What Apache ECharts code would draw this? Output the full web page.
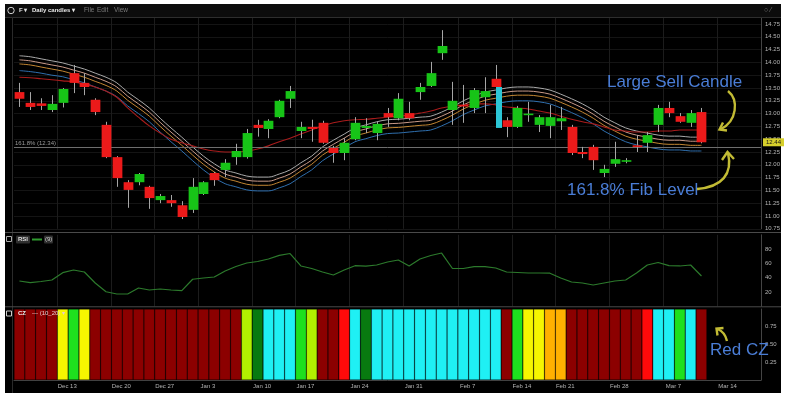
<!DOCTYPE html>
<html><head><meta charset="utf-8">
<script src="https://cdn.jsdelivr.net/npm/echarts@6/dist/echarts.min.js"></script>
<style>
html,body{margin:0;padding:0;background:#fff;}
#bg{position:absolute;left:5px;top:4px;width:776px;height:389px;background:#000;}
#chart{position:absolute;left:0;top:0;width:787px;height:405px;}
</style></head>
<body><div id="bg"></div><div id="chart"></div>
<script>
// ---- data ----
const dates = ['Dec 7','Dec 8','Dec 9','Dec 10','Dec 13','Dec 14','Dec 15','Dec 16','Dec 17','Dec 20','Dec 21','Dec 22','Dec 23','Dec 27','Dec 28','Dec 29','Dec 30','Dec 31','Jan 3','Jan 4','Jan 5','Jan 6','Jan 7','Jan 10','Jan 11','Jan 12','Jan 13','Jan 14','Jan 18','Jan 19','Jan 20','Jan 21','Jan 24','Jan 25','Jan 26','Jan 27','Jan 28','Jan 31','Feb 1','Feb 2','Feb 3','Feb 4','Feb 7','Feb 8','Feb 9','Feb 10','Feb 11','Feb 14','Feb 15','Feb 16','Feb 17','Feb 18','Feb 22','Feb 23','Feb 24','Feb 25','Feb 28','Mar 1','Mar 2','Mar 3','Mar 4','Mar 7','Mar 8','Mar 9','Mar 10','Mar 11','Mar 14','Mar 15','Mar 16'];
const opens  = [13.42,13.21,13.20,13.07,13.21,13.79,13.60,13.27,12.78,12.15,11.66,11.66,11.57,11.31,11.31,11.21,11.12,11.43,11.84,11.90,12.15,12.15,12.78,12.70,12.93,13.29,12.66,12.74,12.82,12.33,12.23,12.50,12.72,12.62,13.01,12.91,13.01,13.42,13.54,14.18,13.07,13.17,13.11,13.32,13.68,12.87,12.74,12.98,12.78,12.76,12.85,12.74,12.25,12.35,11.84,12.02,12.07,12.38,12.43,12.78,13.11,12.95,12.82,13.03];
const closes = [13.29,13.13,13.15,13.19,13.48,13.60,13.52,13.03,12.15,11.74,11.51,11.82,11.35,11.39,11.25,10.98,11.57,11.66,11.70,12.04,12.27,12.62,12.72,12.86,13.25,13.44,12.74,12.70,12.43,12.23,12.43,12.82,12.76,12.80,12.93,13.29,12.91,13.52,13.79,14.32,13.25,13.15,13.46,13.44,13.52,12.74,13.11,13.00,12.93,12.93,12.91,12.23,12.21,12.09,11.92,12.11,12.09,12.36,12.58,13.11,13.01,12.84,13.01,12.44];
const lows   = [13.13,13.07,13.07,13.03,13.12,13.40,13.36,12.97,12.13,11.57,11.16,11.60,11.14,11.25,11.18,10.94,11.06,11.41,11.59,11.76,12.00,12.12,12.55,12.52,12.91,13.11,12.52,12.45,12.41,12.04,12.09,12.48,12.62,12.48,12.74,12.87,12.87,13.27,13.52,14.05,12.78,12.82,13.01,13.01,13.42,12.54,12.72,12.84,12.64,12.52,12.68,12.19,12.13,11.90,11.76,11.96,12.03,12.25,12.25,12.64,12.93,12.82,12.74,12.42];
const highs  = [13.60,13.42,13.30,13.36,13.50,13.95,13.79,13.30,12.84,12.17,11.70,11.84,11.59,11.43,11.41,11.29,11.74,11.68,11.86,12.11,12.41,12.70,12.88,12.89,13.27,13.54,12.84,12.88,12.86,12.37,12.52,12.93,12.91,12.84,13.11,13.40,13.23,13.60,14.01,14.63,13.62,13.56,13.50,13.71,13.95,12.93,13.15,13.23,12.97,13.17,13.13,12.78,12.35,12.39,12.00,12.45,12.13,12.58,12.64,13.17,13.23,13.01,13.07,13.11];
const bandUpper  = [14.13,14.11,14.07,14.03,13.99,13.93,13.87,13.79,13.71,13.60,13.42,13.27,13.11,12.91,12.72,12.54,12.35,12.17,12.02,11.90,11.84,11.78,11.76,11.76,11.82,11.90,12.04,12.17,12.35,12.48,12.60,12.72,12.78,12.84,12.88,12.89,12.91,12.93,12.95,13.03,13.13,13.25,13.34,13.42,13.46,13.50,13.52,13.52,13.50,13.46,13.38,13.29,13.19,13.07,12.93,12.82,12.72,12.66,12.62,12.58,12.56,12.56,12.54,12.54];
const bandUpMid  = [14.05,14.03,13.99,13.95,13.91,13.85,13.79,13.71,13.63,13.52,13.34,13.19,13.03,12.83,12.64,12.46,12.27,12.09,11.94,11.82,11.76,11.70,11.68,11.68,11.74,11.82,11.96,12.09,12.27,12.40,12.52,12.64,12.70,12.76,12.80,12.81,12.83,12.85,12.87,12.95,13.05,13.17,13.26,13.34,13.38,13.42,13.44,13.44,13.42,13.38,13.30,13.21,13.11,12.99,12.85,12.74,12.64,12.58,12.54,12.50,12.48,12.48,12.46,12.46];
const bandLowMid = [13.97,13.95,13.91,13.87,13.83,13.77,13.71,13.63,13.55,13.44,13.26,13.11,12.95,12.75,12.56,12.38,12.19,12.01,11.86,11.74,11.68,11.62,11.60,11.60,11.66,11.74,11.88,12.01,12.19,12.32,12.44,12.56,12.62,12.68,12.72,12.73,12.75,12.77,12.79,12.87,12.97,13.09,13.18,13.26,13.30,13.34,13.36,13.36,13.34,13.30,13.22,13.13,13.03,12.91,12.77,12.66,12.56,12.50,12.46,12.42,12.40,12.40,12.38,12.38];
const bandLower  = [13.84,13.82,13.79,13.75,13.72,13.66,13.60,13.52,13.44,13.33,13.15,13.00,12.84,12.64,12.45,12.27,12.08,11.90,11.75,11.63,11.57,11.51,11.49,11.49,11.55,11.63,11.77,11.90,12.08,12.21,12.33,12.45,12.51,12.57,12.61,12.62,12.64,12.66,12.68,12.76,12.86,12.98,13.07,13.15,13.19,13.23,13.25,13.25,13.23,13.19,13.11,13.02,12.92,12.80,12.66,12.55,12.45,12.39,12.35,12.31,12.29,12.29,12.27,12.27];
const maRed      = [13.71,13.70,13.68,13.66,13.64,13.62,13.58,13.52,13.44,13.32,13.11,12.93,12.76,12.62,12.50,12.43,12.37,12.31,12.27,12.25,12.25,12.27,12.31,12.37,12.45,12.52,12.60,12.68,12.76,12.82,12.86,12.88,12.89,12.91,12.93,12.95,12.97,13.01,13.05,13.11,13.15,13.17,13.19,13.19,13.17,13.13,13.11,13.09,13.05,13.01,12.95,12.89,12.84,12.80,12.74,12.68,12.66,12.64,12.64,12.66,12.66,12.68,12.68,12.68];
const rsi = [35.4,33,34.7,36.8,47,50.8,48,32.6,20.4,17.2,17.2,25.6,22.8,24.2,22.8,22,37.8,39.6,41,49.4,55.7,60.6,62.7,66.2,71.3,73.8,56.4,52.9,48,43.8,50.8,56.8,56.1,57.8,62,64.8,56.4,66.2,71,74.5,52.9,52.9,55.4,55.4,53.6,48,47.3,46.6,46.6,46.3,39.6,34,32.6,29.8,32.6,35.4,36.8,46.6,57.8,61.3,56.8,56.4,57.8,42.4];
const czZone = ['DR','DR','DR','DR','Y','G','Y','DR','DR','DR','DR','DR','DR','DR','DR','DR','DR','DR','DR','DR','DR','YG','DG','C','C','C','G','YG','DR','DR','R','C','DG','C','C','C','C','C','C','C','C','C','C','C','C','DR','G','Y','Y','O','O','DR','DR','DR','DR','DR','DR','DR','R','C','C','G','C','DR'];
const czColors = {DR:'#8c0000', Y:'#f6f600', G:'#1ee01e', YG:'#b2f000', DG:'#087a10', C:'#1ff0f4', R:'#ff0a0a', O:'#ffb000'};
const tickLabels = ['Dec 13','Dec 20','Dec 27','Jan 3','Jan 10','Jan 17','Jan 24','Jan 31','Feb 7','Feb 14','Feb 21','Feb 28','Mar 7','Mar 14'];
const tickIdx    = [4,9,13,17,22,26,31,36,41,46,50,55,60,65];
const fibLevel = 12.34, fibText = '161.8% (12.34)';
const lastPrice = 12.44;
const gapBar = [44, 13.52, 12.72];

// ---- chart ----
const chart = echarts.init(document.getElementById('chart'), null, {renderer:'canvas'});
const FONT = "'Liberation Sans', Arial, sans-serif";
const axisLbl = {color:'#b4b4b4', fontSize:6, fontFamily:FONT};

function renderCandle(params, api){
  const i=api.value(0), o=api.value(1), c=api.value(2), l=api.value(3), h=api.value(4);
  const pH=api.coord([i,h]), pL=api.coord([i,l]), pO=api.coord([i,o]), pC=api.coord([i,c]);
  const w=api.size([1,0])[0]*0.9;
  const x=Math.round(pO[0])+0.5;
  const top=Math.min(pO[1],pC[1]);
  let hgt=Math.abs(pO[1]-pC[1]); if(hgt<1.6) hgt=1.6;
  const up=c>=o;
  return {type:'group', children:[
    {type:'line', shape:{x1:x,y1:pH[1],x2:x,y2:pL[1]}, style:{stroke:'#a6a6a6', lineWidth:1}},
    {type:'rect', shape:{x:x-w/2, y:top, width:w, height:hgt}, style:{fill: up?'#17c417':'#ec1a1a'}}
  ]};
}
function renderGap(params, api){
  const i=api.value(0);
  const pT=api.coord([i, api.value(1)]), pB=api.coord([i, api.value(2)]);
  const slot=api.size([1,0])[0];
  const cx=pT[0]+slot*0.3;
  return {type:'rect', shape:{x:cx-3, y:pT[1], width:6, height:pB[1]-pT[1]}, style:{fill:'#2cc6d6'}};
}
const showTick = idx => tickIdx.indexOf(idx) >= 0;

const lineS = (data, color, w) => ({type:'line', xAxisIndex:0, yAxisIndex:0, data:data, showSymbol:false, smooth:0.35, silent:true,
  lineStyle:{color:color, width:w||1}, z:3});

const redLine = lineS(maRed, '#a81c1c', 1.1);
redLine.markLine = {symbol:['none','none'], silent:true, animation:false,
  data:[
    {yAxis:fibLevel, lineStyle:{color:'#6e6e6e', width:1, type:'solid'},
     label:{show:true, position:'insideStartTop', formatter:fibText, color:'#9a9a9a', fontSize:6, fontFamily:FONT, distance:1}},
    {yAxis:lastPrice, lineStyle:{color:'rgba(0,0,0,0)', width:1, type:'solid'},
     label:{show:true, position:'end', formatter:lastPrice.toFixed(2), backgroundColor:'#d6cf2c', color:'#111', fontSize:6, fontFamily:FONT, padding:[1,3,1,3], distance:2}}
  ]};

const gridL = 14, gridW = 747;
const option = {
  animation:false,
  backgroundColor:'transparent',
  grid:[
    {left:gridL, width:gridW, top:17.6, height:211.2},
    {left:gridL, width:gridW, top:234.8, height:71.5},
    {left:gridL, width:gridW, top:309, height:71}
  ],
  xAxis:[0,1,2].map(g => ({
    type:'category', gridIndex:g, data:dates, boundaryGap:true,
    axisLine:{show:g===2, lineStyle:{color:'#444'}},
    axisTick:{show:false},
    axisLabel: g===2 ? Object.assign({interval:(idx)=>showTick(idx), formatter:(v,idx)=>tickLabels[tickIdx.indexOf(idx)], margin:3, padding:[0,0,0,9]}, axisLbl) : {show:false},
    splitLine:{show:g!==2, interval:(idx)=>showTick(idx), lineStyle:{color:'#1c1c1c', width:1}}
  })),
  yAxis:[
    {type:'value', gridIndex:0, position:'right', min:10.75, max:14.875, interval:0.25,
     axisLine:{show:true, lineStyle:{color:'#444'}}, axisTick:{show:false},
     axisLabel:Object.assign({showMaxLabel:false, margin:4, formatter:v=>v.toFixed(2)}, axisLbl),
     splitLine:{show:true, lineStyle:{color:'#141414'}}},
    {type:'value', gridIndex:1, position:'right', min:0, max:100, interval:20,
     axisLine:{show:true, lineStyle:{color:'#444'}}, axisTick:{show:false},
     axisLabel:Object.assign({showMaxLabel:false, showMinLabel:false, margin:4}, axisLbl),
     splitLine:{show:false}},
    {type:'value', gridIndex:2, position:'right', min:0, max:1, interval:0.25,
     axisLine:{show:true, lineStyle:{color:'#444'}}, axisTick:{show:false},
     axisLabel:Object.assign({showMaxLabel:false, showMinLabel:false, margin:4, formatter:v=>v.toFixed(2)}, axisLbl),
     splitLine:{show:false}}
  ],
  series:[
    lineS(bandUpper, '#a9a9a9'),
    lineS(bandUpMid, '#c99a88'),
    lineS(bandLowMid, '#c38632'),
    lineS(bandLower, '#2f6fae'),
    redLine,
    {type:'custom', xAxisIndex:0, yAxisIndex:0, renderItem:renderCandle, silent:true, z:5,
     encode:{x:0, y:[1,2,3,4]},
     data: opens.map((o,i)=>[i, o, closes[i], lows[i], highs[i]])},
    {type:'custom', xAxisIndex:0, yAxisIndex:0, renderItem:renderGap, silent:true, z:6,
     encode:{x:0, y:[1,2]}, data:[gapBar]},
    {type:'line', xAxisIndex:1, yAxisIndex:1, data:rsi, showSymbol:false, smooth:false, silent:true,
     lineStyle:{color:'#2c7a2c', width:1.2}},
    {type:'bar', xAxisIndex:2, yAxisIndex:2, barCategoryGap:'0%', silent:true,
     data: czZone.map(z => ({value:1, itemStyle:{color:czColors[z], borderColor:'rgba(0,0,0,0.3)', borderWidth:0.6}}))}
  ],
  graphic:[
    // header bar
    {type:'rect', shape:{x:5,y:4,width:776,height:13}, style:{fill:'#0c0c0c'}, z:50},
    {type:'line', shape:{x1:5,y1:17.5,x2:781,y2:17.5}, style:{stroke:'#2e2e2e', lineWidth:1}, z:50},
    {type:'circle', shape:{cx:11,cy:10.5,r:3.2}, style:{fill:'none', stroke:'#cfcfcf', lineWidth:1}, z:51},
    {type:'text', x:19, y:10.5, style:{text:'F ▾', fill:'#e0e0e0', font:'bold 6px '+FONT, verticalAlign:'middle'}, z:51},
    {type:'text', x:32, y:10.5, style:{text:'Daily candles ▾', fill:'#e8e8e8', font:'bold 6px '+FONT, verticalAlign:'middle'}, z:51},
    {type:'text', x:84, y:10.5, style:{text:'File', fill:'#7a7a7a', font:'6.5px '+FONT, verticalAlign:'middle'}, z:51},
    {type:'text', x:97, y:10.5, style:{text:'Edit', fill:'#7a7a7a', font:'6.5px '+FONT, verticalAlign:'middle'}, z:51},
    {type:'text', x:114, y:10.5, style:{text:'View', fill:'#7a7a7a', font:'6.5px '+FONT, verticalAlign:'middle'}, z:51},
    {type:'text', x:764, y:10.5, style:{text:'○ ⁄', fill:'#777', font:'7px '+FONT, verticalAlign:'middle'}, z:51},
    // left strip
    {type:'line', shape:{x1:12.5,y1:17,x2:12.5,y2:393}, style:{stroke:'#2a2a2a', lineWidth:1}, z:50},
    // panel dividers
    {type:'line', shape:{x1:5,y1:232.5,x2:781,y2:232.5}, style:{stroke:'#4a4a4a', lineWidth:1}, z:50},
    {type:'line', shape:{x1:5,y1:306.8,x2:781,y2:306.8}, style:{stroke:'#4a4a4a', lineWidth:1}, z:50},
    // RSI header
    {type:'rect', shape:{x:6.5,y:236.5,width:5,height:5}, style:{fill:'none', stroke:'#aaa', lineWidth:1}, z:51},
    {type:'rect', shape:{x:16,y:235.5,width:14,height:8,r:1}, style:{fill:'#2f2f2f'}, z:51},
    {type:'text', x:18, y:239.5, style:{text:'RSI', fill:'#ddd', font:'bold 6px '+FONT, verticalAlign:'middle'}, z:52},
    {type:'line', shape:{x1:32,y1:239.5,x2:42,y2:239.5}, style:{stroke:'#2f9a2f', lineWidth:2}, z:51},
    {type:'rect', shape:{x:44,y:235.5,width:9,height:8,r:1}, style:{fill:'#2f2f2f'}, z:51},
    {type:'text', x:45, y:239.5, style:{text:'(9)', fill:'#ccc', font:'6px '+FONT, verticalAlign:'middle'}, z:52},
    // CZ header
    {type:'rect', shape:{x:6.5,y:311,width:5,height:5}, style:{fill:'none', stroke:'#ccc', lineWidth:1}, z:51},
    {type:'text', x:18, y:313.5, style:{text:'CZ', fill:'#f0f0f0', font:'bold 6px '+FONT, verticalAlign:'middle'}, z:52},
    {type:'text', x:32, y:313.5, style:{text:'--- (10_20) ▾', fill:'#e6cccc', font:'6px '+FONT, verticalAlign:'middle'}, z:52},
    // annotations
    {type:'text', x:607, y:82, style:{text:'Large Sell Candle', fill:'#4a7dd6', font:'17px '+FONT, verticalAlign:'middle'}, z:60},
    {type:'text', x:567, y:190, style:{text:'161.8% Fib Level', fill:'#4a7dd6', font:'17px '+FONT, verticalAlign:'middle'}, z:60},
    {type:'text', x:710, y:350, style:{text:'Red CZ', fill:'#4a7dd6', font:'17px '+FONT, verticalAlign:'middle'}, z:60},
    {type:'bezierCurve', shape:{x1:728,y1:91,cpx1:739,cpy1:100,cpx2:737,cpy2:121,x2:721,y2:129}, style:{stroke:'#c2bb34', lineWidth:2.4, fill:'none'}, z:60},
    {type:'polyline', shape:{points:[[723,122.5],[719.5,129.5],[727,130.5]]}, style:{stroke:'#c2bb34', lineWidth:2.4, fill:'none'}, z:60},
    {type:'bezierCurve', shape:{x1:697,y1:189,cpx1:722,cpy1:187,cpx2:733,cpy2:174,x2:728,y2:153}, style:{stroke:'#c2bb34', lineWidth:2.4, fill:'none'}, z:60},
    {type:'polyline', shape:{points:[[722,160],[727.5,152],[734,159]]}, style:{stroke:'#c2bb34', lineWidth:2.4, fill:'none'}, z:60},
    {type:'bezierCurve', shape:{x1:727,y1:341,cpx1:725,cpy1:332,x2:717.5,y2:329}, style:{stroke:'#c2bb34', lineWidth:2.4, fill:'none'}, z:60},
    {type:'polyline', shape:{points:[[717.5,335.5],[716.5,328.5],[723.5,328]]}, style:{stroke:'#c2bb34', lineWidth:2.4, fill:'none'}, z:60}
  ]
};
chart.setOption(option);
</script>
</body></html>
